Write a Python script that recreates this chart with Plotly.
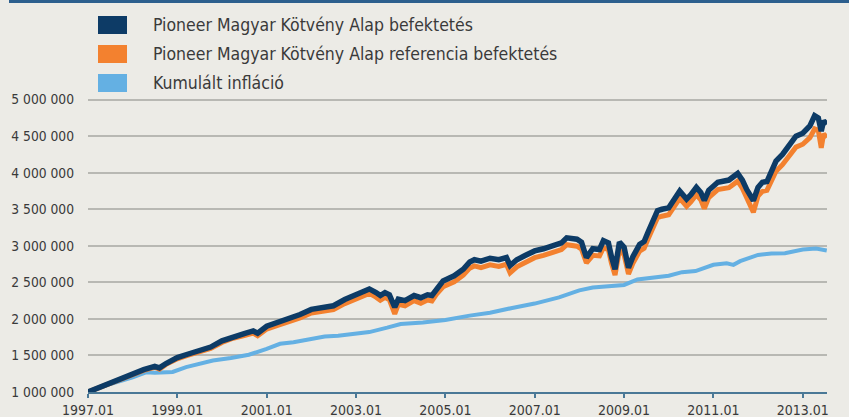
import plotly.graph_objects as go

# ---------------- data (values in HUF) ----------------
fund_dates = [
    "1997-01-01", "1997-04-01", "1997-07-01", "1997-10-01", "1998-01-01", "1998-04-01",
    "1998-07-01", "1998-08-08", "1998-10-01", "1999-01-01", "1999-04-01", "1999-07-01",
    "1999-10-01", "2000-01-01", "2000-04-01", "2000-07-01", "2000-09-13", "2000-10-19",
    "2001-01-01", "2001-04-01", "2001-07-01", "2001-10-01", "2002-01-01", "2002-04-01",
    "2002-07-01", "2002-10-01", "2003-01-01", "2003-04-20", "2003-06-14", "2003-07-19",
    "2003-08-26", "2003-10-01", "2003-11-14", "2003-12-13", "2004-02-06", "2004-04-20",
    "2004-06-14", "2004-08-08", "2004-09-13", "2004-10-19", "2004-12-13", "2005-03-14",
    "2005-05-27", "2005-07-19", "2005-08-26", "2005-10-19", "2006-01-01", "2006-03-14",
    "2006-05-15", "2006-06-14", "2006-08-08", "2006-10-19", "2007-01-01", "2007-03-14",
    "2007-06-14", "2007-08-08", "2007-09-20", "2007-12-13", "2008-01-19", "2008-02-28",
    "2008-04-20", "2008-06-14", "2008-07-16", "2008-08-26", "2008-09-20", "2008-10-19",
    "2008-11-24", "2009-01-01", "2009-02-06", "2009-03-14", "2009-05-08", "2009-06-14",
    "2009-07-19", "2009-08-26", "2009-10-01", "2009-11-06", "2010-01-01", "2010-04-01",
    "2010-05-27", "2010-07-01", "2010-08-15", "2010-09-20", "2010-10-19", "2010-11-24",
    "2011-02-06", "2011-05-08", "2011-07-19", "2011-08-26", "2011-10-01", "2011-11-24",
    "2012-01-01", "2012-02-06", "2012-03-14", "2012-04-20", "2012-05-27", "2012-07-19",
    "2012-09-13", "2012-11-06", "2013-01-01", "2013-02-28", "2013-04-08", "2013-05-08",
    "2013-06-01", "2013-06-20", "2013-07-16",
]

fund_values = [  # Pioneer Magyar Kötvény Alap befektetés (thousand HUF)
    1000, 1060, 1125, 1190, 1250, 1305,
    1350, 1330, 1390, 1470, 1520, 1570,
    1615, 1700, 1760, 1800, 1835, 1805,
    1900, 1950, 2000, 2060, 2130, 2160,
    2180, 2265, 2330, 2410, 2360, 2320,
    2360, 2330, 2160, 2270, 2250, 2320,
    2290, 2330, 2320, 2410, 2520, 2590,
    2680, 2780, 2810, 2790, 2830, 2810,
    2840, 2730, 2810, 2870, 2930, 2960,
    3020, 3040, 3110, 3090, 3050, 2840,
    2960, 2950, 3070, 3040, 2850, 2680,
    3050, 2980, 2700, 2850, 3020, 3060,
    3200, 3340, 3480, 3500, 3520, 3750,
    3640, 3700, 3800, 3730, 3620, 3760,
    3870, 3900, 3990, 3900, 3770, 3620,
    3800, 3870, 3880, 4020, 4160, 4250,
    4390, 4500, 4540, 4640, 4780, 4750,
    4570, 4710, 4660,
]

benchmark_values = [  # Pioneer Magyar Kötvény Alap referencia befektetés (thousand HUF)
    1000, 1058, 1120, 1185, 1242, 1296,
    1338, 1312, 1378, 1455, 1503, 1552,
    1595, 1678, 1735, 1772, 1805, 1770,
    1862, 1910, 1958, 2015, 2082, 2110,
    2128, 2210, 2272, 2350, 2298, 2255,
    2295, 2262, 2070, 2200, 2180, 2250,
    2215, 2258, 2245, 2335, 2440, 2508,
    2598, 2695, 2725, 2700, 2740, 2718,
    2748, 2630, 2712, 2778, 2838, 2868,
    2928, 2948, 3015, 2995, 2955, 2765,
    2870, 2862, 2975, 2948, 2760, 2600,
    2940, 2880, 2615, 2760, 2928, 2965,
    3105, 3245, 3385, 3405, 3425, 3648,
    3540, 3600, 3700, 3630, 3510, 3660,
    3770, 3795, 3885, 3790, 3660, 3460,
    3680, 3745, 3760, 3890, 4020, 4110,
    4245, 4350, 4390, 4480, 4600, 4580,
    4340, 4530, 4480,
]

inflation_dates = [
    "1997-01-01", "1997-07-01", "1998-01-01", "1998-04-20", "1998-07-01", "1998-11-24",
    "1999-03-14", "1999-07-01", "1999-10-19", "2000-03-14", "2000-08-08", "2001-01-01",
    "2001-04-20", "2001-08-08", "2002-01-01", "2002-04-20", "2002-08-08", "2003-01-01",
    "2003-04-20", "2003-09-13", "2004-01-01", "2004-07-01", "2005-01-01", "2005-07-19",
    "2006-01-01", "2006-07-01", "2007-01-01", "2007-07-19", "2008-01-01", "2008-04-20",
    "2008-10-19", "2009-01-01", "2009-04-20", "2009-10-19", "2010-01-01", "2010-04-20",
    "2010-08-08", "2011-01-01", "2011-04-20", "2011-06-14", "2011-08-08", "2012-01-01",
    "2012-04-20", "2012-08-08", "2013-01-01", "2013-04-20", "2013-07-16",
]

inflation_values = [  # Kumulált infláció (thousand HUF)
    1000, 1110, 1200, 1270, 1262, 1275,
    1340, 1385, 1430, 1465, 1510, 1590,
    1660, 1680, 1720, 1760, 1770, 1800,
    1820, 1880, 1930, 1950, 1985, 2045,
    2085, 2150, 2210, 2295, 2390, 2430,
    2450, 2465, 2540, 2570, 2590, 2640,
    2655, 2740, 2760, 2740, 2790, 2875,
    2895, 2900, 2950, 2962, 2935,
]

series_names = [
    "Pioneer Magyar Kötvény Alap befektetés",
    "Pioneer Magyar Kötvény Alap referencia befektetés",
    "Kumulált infláció",
]

y_tick_values = [1000000, 1500000, 2000000, 2500000, 3000000, 3500000, 4000000, 4500000, 5000000]
x_tick_values = ["1997-01-01", "1999-01-01", "2001-01-01", "2003-01-01", "2005-01-01",
                 "2007-01-01", "2009-01-01", "2011-01-01", "2013-01-01"]

# ---------------- styling ----------------
NAVY = "#0d3b66"
ORANGE = "#f3812f"
LIGHT = "#64b0e3"
BG = "#ecebe6"
TEXT = "#3a3a3a"
FONT = "DejaVu Sans Condensed, Roboto, sans-serif"

W, H = 849, 417
ML, MR, MT, MB = 88, 22, 96, 25
PW, PH = W - ML - MR, H - MT - MB


def px(x):
    return (x - ML) / PW


def py(y):
    return (H - MB - y) / PH


fig = go.Figure()
fig.add_trace(go.Scatter(x=inflation_dates, y=[v * 1000 for v in inflation_values],
                         mode="lines", name=series_names[2],
                         line=dict(color=LIGHT, width=4), showlegend=False))
fig.add_trace(go.Scatter(x=fund_dates, y=[v * 1000 for v in benchmark_values],
                         mode="lines", name=series_names[1],
                         line=dict(color=ORANGE, width=5), showlegend=False))
fig.add_trace(go.Scatter(x=fund_dates, y=[v * 1000 for v in fund_values],
                         mode="lines", name=series_names[0],
                         line=dict(color=NAVY, width=5.5), showlegend=False))

shapes = []
annotations = []
# top rule
shapes.append(dict(type="line", xref="paper", yref="paper",
                   x0=px(9), x1=px(849), y0=py(1.5), y1=py(1.5),
                   line=dict(color="#2d5f8e", width=3)))
# legend
legend_rows = [(16, 34, NAVY), (45, 63, ORANGE), (74, 92, LIGHT)]
for (y0, y1, col), name in zip(legend_rows, series_names):
    shapes.append(dict(type="rect", xref="paper", yref="paper",
                       x0=px(98), x1=px(127), y0=py(y1), y1=py(y0),
                       fillcolor=col, line=dict(width=0)))
    annotations.append(dict(xref="paper", yref="paper", x=px(151), y=py((y0 + y1) / 2),
                            text=name, showarrow=False, xanchor="left", yanchor="middle",
                            font=dict(family=FONT, size=17.5, color=TEXT)))

fig.update_layout(
    width=W, height=H,
    margin=dict(l=ML, r=MR, t=MT, b=MB, autoexpand=False),
    paper_bgcolor=BG, plot_bgcolor=BG,
    separators=", ",
    font=dict(family=FONT, color=TEXT, size=13),
    shapes=shapes, annotations=annotations,
    showlegend=False,
    xaxis=dict(
        type="date", range=["1997-01-01", "2013-07-18"],
        tickvals=x_tick_values, tickformat="%Y.%m",
        showgrid=False, zeroline=False, automargin=False,
        showline=True, linecolor="#4a7896", linewidth=2,
        ticks="outside", ticklen=4, tickwidth=1.5, tickcolor="#4a7896",
        tickfont=dict(family=FONT, size=14, color=TEXT),
    ),
    yaxis=dict(
        range=[1000000, 5050000], automargin=False,
        tickvals=y_tick_values, tickformat=",d",
        showgrid=True, gridcolor="#b8b8b3", gridwidth=1.5,
        zeroline=False, showline=False, ticks="",
        ticklabelstandoff=13,
        tickfont=dict(family=FONT, size=13.7, color=TEXT),
    ),
)

fig.write_html(
    "out.html",
    config={"displayModeBar": False},
    post_script="document.body.style.margin='0';document.body.style.background='" + BG + "';",
)
